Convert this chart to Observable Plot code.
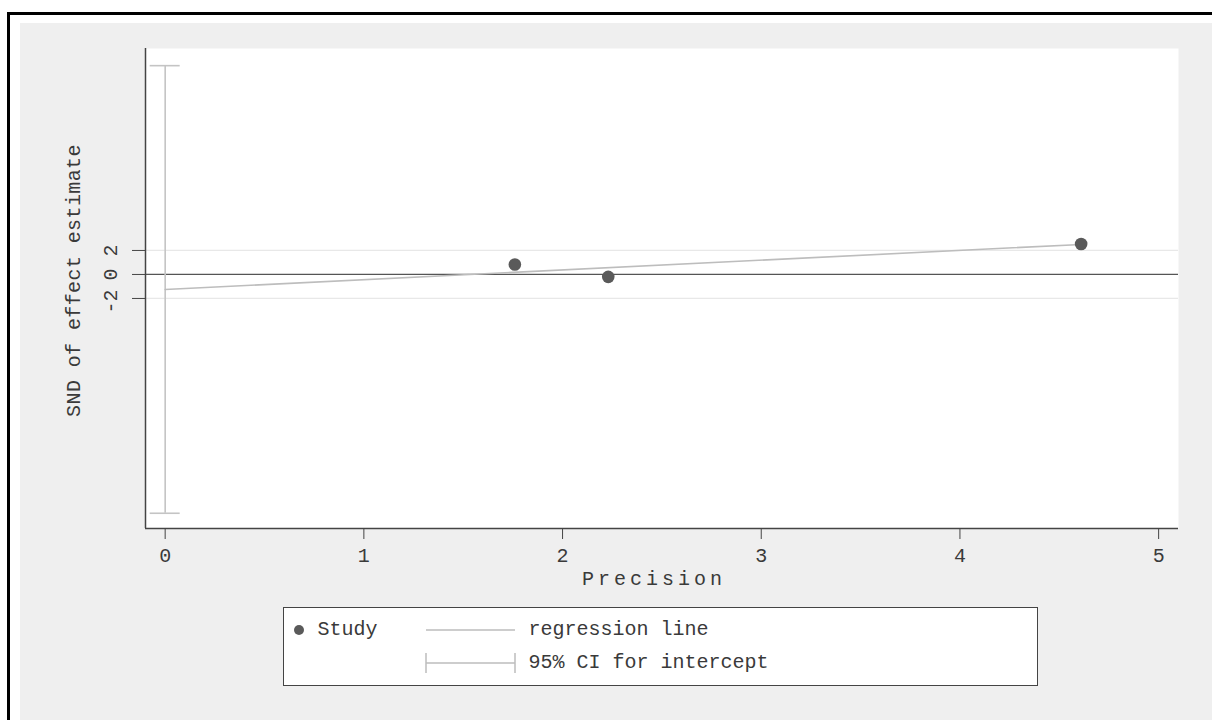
<!DOCTYPE html>
<html>
<head>
<meta charset="utf-8">
<script src="https://cdn.jsdelivr.net/npm/d3@7"></script>
<script src="https://cdn.jsdelivr.net/npm/@observablehq/plot@0.6"></script>
<style>
  html, body { margin: 0; padding: 0; background: #ffffff; width: 1212px; height: 720px; overflow: hidden; }
  #border { position: absolute; left: 7px; top: 12px; width: 1220px; height: 730px; border-left: 3px solid #000; border-top: 3px solid #000; box-sizing: border-box; }
  #bg { position: absolute; left: 20px; top: 23px; width: 1192px; height: 697px; background: #efefef; }
  #chart { position: absolute; left: 0; top: 0; }
  #legend { position: absolute; left: 283px; top: 607px; width: 755px; height: 79px; box-sizing: border-box; border: 1.5px solid #444; background: #fff; }
  .lt { position: absolute; font-family: "Liberation Mono", monospace; font-size: 20px; color: #3a3a3a; line-height: 20px; white-space: pre; }
</style>
</head>
<body>
<div id="border"></div>
<div id="bg"></div>
<div id="chart"></div>
<div id="legend"></div>
<script>
// ---- data ----
const precision = [1.76, 2.23, 4.61];          // study precision (x)
const snd = [0.83, -0.2, 2.54];                // SND of effect estimate (y)
const regX = [0, 4.61];                        // regression line ends (x)
const regY = [-1.25, 2.5];                     // regression line ends (y)
const ciX = 0;                                 // intercept CI position
const ciLow = -19.9, ciHigh = 17.4;            // 95% CI for intercept
const xTicks = [0, 1, 2, 3, 4, 5];
const yTicks = [-2, 0, 2];
const yTickLabels = ["-2", "0", "2"];
const xDomain = [-0.099, 5.1];
const yDomain = [-21.17, 18.83];
const xTitle = "Precision";
const yTitle = "SND of effect estimate";
const legendItems = ["Study", "regression line", "95% CI for intercept"];

const studies = precision.map((p, i) => ({x: p, y: snd[i]}));
const reg = regX.map((x, i) => ({x, y: regY[i]}));
const yLab = yTicks.map((v, i) => ({y: v, label: yTickLabels[i]}));
const FONT = "Liberation Mono, monospace";
const TXT = "#3a3a3a";

const chart = Plot.plot({
  width: 1212,
  height: 600,
  marginLeft: 145,
  marginRight: 34,
  marginTop: 48,
  marginBottom: 72,
  style: {background: "transparent", fontFamily: FONT, fontSize: "20px", color: TXT},
  x: {domain: xDomain},
  y: {domain: yDomain},
  marks: [
    Plot.frame({fill: "white", stroke: null}),
    Plot.ruleY(yTicks.filter(d => d !== 0), {stroke: "#e8e8e8", strokeWidth: 1.2}),
    Plot.ruleY([0], {stroke: "#555", strokeWidth: 1.3}),
    // CI for intercept
    Plot.ruleX([ciX], {y1: ciLow, y2: ciHigh, stroke: "#c4c4c4", strokeWidth: 1.6}),
    Plot.ruleY([ciLow, ciHigh], {x1: ciX, x2: ciX, insetLeft: -15, insetRight: -15, stroke: "#c4c4c4", strokeWidth: 1.6}),
    // regression line
    Plot.line(reg, {x: "x", y: "y", stroke: "#bdbdbd", strokeWidth: 1.6}),
    // studies
    Plot.dot(studies, {x: "x", y: "y", r: 6.3, fill: "#5a5a5a", stroke: null}),
    // axes lines
    Plot.ruleX([xDomain[0]], {stroke: "#444", strokeWidth: 1.5}),
    Plot.ruleY([yDomain[0]], {stroke: "#444", strokeWidth: 1.5}),
    Plot.axisX({ticks: xTicks, tickSize: 11, tickPadding: 8, label: null, stroke: "#444", fill: TXT, fontSize: 20, tickFormat: d => String(d)}),
    Plot.axisY({ticks: yTicks, tickSize: 13, label: null, tickFormat: () => "", stroke: "#444"}),
    Plot.text(yLab, {filter: d => d.y !== -2, y: "y", text: "label", frameAnchor: "left", dx: -35, rotate: -90, fontSize: 20, fill: TXT, textAnchor: "middle"}),
    Plot.text(yLab, {filter: d => d.y === -2, y: "y", text: "label", frameAnchor: "left", dx: -35, dy: 3, rotate: -90, fontSize: 20, fill: TXT, textAnchor: "middle"}),
    Plot.text([xTitle], {text: d => d, frameAnchor: "bottom", dy: 50, dx: -8, fontSize: 20, fill: TXT, lineAnchor: "middle"}),
    Plot.text([yTitle], {text: d => d, frameAnchor: "left", dx: -72, dy: -8, rotate: -90, fontSize: 20, fill: TXT, textAnchor: "middle", lineAnchor: "middle"})
  ]
});
document.getElementById("chart").appendChild(chart);
// letter spacing for axis titles
chart.querySelectorAll("text").forEach(t => {
  if (t.textContent === xTitle) t.setAttribute("letter-spacing", "4");
  if (t.textContent === yTitle) t.setAttribute("letter-spacing", "0.4");
});

// ---- legend ----
const lg = document.getElementById("legend");
const ox = 283, oy = 607;
const svgNS = "http://www.w3.org/2000/svg";
const sym = document.createElementNS(svgNS, "svg");
sym.setAttribute("width", 755); sym.setAttribute("height", 79);
sym.style.position = "absolute"; sym.style.left = "-1.5px"; sym.style.top = "-1.5px";
sym.innerHTML = `
  <circle cx="${299-ox}" cy="${630-oy}" r="5" fill="#5a5a5a"/>
  <line x1="${426-ox}" x2="${515-ox}" y1="${630-oy}" y2="${630-oy}" stroke="#bdbdbd" stroke-width="1.5"/>
  <line x1="${426-ox}" x2="${515-ox}" y1="${663-oy}" y2="${663-oy}" stroke="#bdbdbd" stroke-width="1.5"/>
  <line x1="${426-ox}" x2="${426-ox}" y1="${653-oy}" y2="${673-oy}" stroke="#bdbdbd" stroke-width="1.5"/>
  <line x1="${515-ox}" x2="${515-ox}" y1="${653-oy}" y2="${673-oy}" stroke="#bdbdbd" stroke-width="1.5"/>`;
lg.appendChild(sym);
const addText = (s, x, y) => {
  const d = document.createElement("div");
  d.className = "lt"; d.textContent = s;
  d.style.left = (x - ox - 1.5) + "px"; d.style.top = (y - oy - 1.5 - 10) + "px";
  lg.appendChild(d);
};
addText(legendItems[0], 318, 630);
addText(legendItems[1], 529, 630);
addText(legendItems[2], 529, 663);
</script>
</body>
</html>
